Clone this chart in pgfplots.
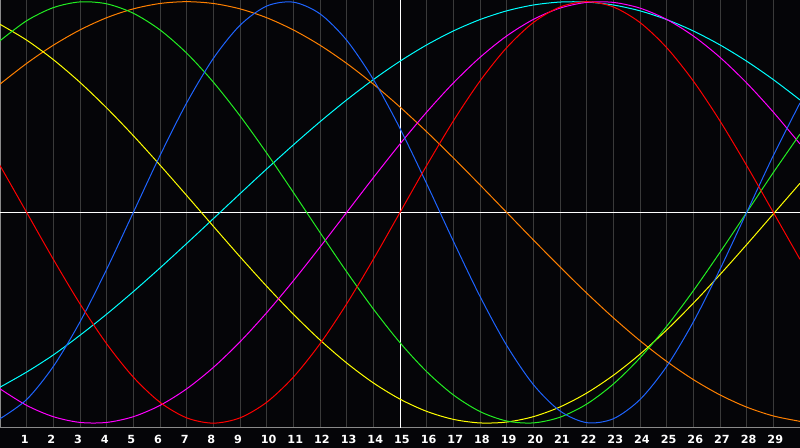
\documentclass[border=0pt]{standalone}
\usepackage{fontspec}
\setmainfont{DejaVu Sans}
\usepackage{pgfplots}
\usepackage{pgfplotstable}
\pgfplotsset{compat=1.18}
\definecolor{bg}{HTML}{050508}
\definecolor{gridgray}{HTML}{3A3A3A}
\definecolor{bordergray}{HTML}{8A8A8A}
\definecolor{cred}{HTML}{FF0000}
\definecolor{cblue}{HTML}{1E64FF}
\definecolor{cgreen}{HTML}{22EE22}
\definecolor{cyellow}{HTML}{FFFF00}
\definecolor{corange}{HTML}{FF8000}
\definecolor{ccyan}{HTML}{00FFFF}
\definecolor{cmagenta}{HTML}{FF00FF}
\pgfplotstableread{
t  red     blue    green   yellow  orange  cyan    magenta
0  0.2225  -0.9791 0.8146  0.8927  0.6088  -0.8294 -0.8372
1  0.0     -0.8879 0.9096  0.8175  0.7071  -0.7575 -0.9158
2  -0.2225 -0.7308 0.9718  0.7250  0.7934  -0.6763 -0.9694
3  -0.4339 -0.5196 0.9989  0.6170  0.8660  -0.5830 -0.9966
4  -0.6235 -0.2698 0.9898  0.4958  0.9239  -0.4828 -0.9966
5  -0.7818 0.0     0.9450  0.3641  0.9659  -0.3759 -0.9694
6  -0.9010 0.2698  0.8660  0.2245  0.9914  -0.2636 -0.9158
7  -0.9749 0.5196  0.7557  0.0803  1.0     -0.1476 -0.8372
8  -1.0    0.7308  0.6182  -0.0657 0.9914  -0.0297 -0.7357
9  -0.9749 0.8879  0.4582  -0.2103 0.9659  0.0888  -0.6142
10 -0.9010 0.9791  0.2817  -0.3504 0.9239  0.2060  -0.4759
11 -0.7818 0.9977  0.0951  -0.4829 0.8660  0.3203  -0.3247
12 -0.6235 0.9423  -0.0951 -0.6052 0.7934  0.4301  -0.1646
13 -0.4339 0.8170  -0.2817 -0.7145 0.7071  0.5338  0.0
14 -0.2225 0.6311  -0.4582 -0.8090 0.6088  0.6301  0.1646
15 0.0     0.3984  -0.6182 -0.8861 0.5     0.7175  0.3247
16 0.2225  0.1362  -0.7557 -0.9441 0.3827  0.7948  0.4759
17 0.4339  -0.1362 -0.8660 -0.9820 0.2588  0.8610  0.6142
18 0.6235  -0.3984 -0.9450 -0.9990 0.1305  0.9151  0.7357
19 0.7818  -0.6311 -0.9898 -0.9948 0.0     0.9564  0.8372
20 0.9010  -0.8170 -0.9989 -0.9693 -0.1305 0.9842  0.9158
21 0.9749  -0.9423 -0.9718 -0.9232 -0.2588 0.9982  0.9694
22 1.0     -0.9977 -0.9096 -0.8573 -0.3827 0.9982  0.9966
23 0.9749  -0.9791 -0.8146 -0.7730 -0.5    0.9842  0.9966
24 0.9010  -0.8879 -0.6901 -0.6726 -0.6088 0.9564  0.9694
25 0.7818  -0.7308 -0.5406 -0.5580 -0.7071 0.9151  0.9158
26 0.6235  -0.5196 -0.3717 -0.4309 -0.7934 0.8610  0.8372
27 0.4339  -0.2698 -0.1893 -0.2950 -0.8660 0.7948  0.7357
28 0.2225  0.0     0.0     -0.1528 -0.9239 0.7175  0.6142
29 0.0     0.2698  0.1893  -0.0073 -0.9659 0.6301  0.4759
30 -0.2225 0.5196  0.3717  0.1383  -0.9914 0.5338  0.3247
}\bio
\begin{document}
\begin{tikzpicture}
\fill[bg] (0,-15pt) rectangle (600pt,321pt);
\begin{axis}[
  at={(0,0)}, anchor=south west,
  scale only axis, width=600pt, height=321pt,
  xmin=0, xmax=30, ymin=-1.023, ymax=1.008,
  axis background/.style={fill=bg},
  axis line style={bordergray, line width=0.75pt},
  xtick={1,...,29}, ytick=\empty,
  major tick length=0pt,
  xmajorgrids,
  major grid style={gridgray, line width=0.75pt},
  extra x ticks={15}, extra x tick labels={},
  extra x tick style={major grid style={white, line width=0.75pt}},
  extra y ticks={0}, extra y tick labels={},
  extra y tick style={ymajorgrids=true, major grid style={white, line width=0.75pt}},
  xticklabel style={font=\bfseries\fontsize{8.4}{9}\selectfont, text=white, anchor=base west, inner sep=0pt, xshift=-4.6pt, yshift=-11.5pt},
  /pgf/number format/assume math mode=true,
  every axis plot/.append style={line width=0.75pt, smooth, no markers},
]
\addplot[ccyan] table[x=t, y=cyan] {\bio};
\addplot[corange] table[x=t, y=orange] {\bio};
\addplot[cyellow] table[x=t, y=yellow] {\bio};
\addplot[cmagenta] table[x=t, y=magenta] {\bio};
\addplot[cgreen] table[x=t, y=green] {\bio};
\addplot[cblue] table[x=t, y=blue] {\bio};
\addplot[cred] table[x=t, y=red] {\bio};
\end{axis}
\pgfresetboundingbox
\useasboundingbox (0,-15pt) rectangle (600pt,321pt);
\end{tikzpicture}
\end{document}
